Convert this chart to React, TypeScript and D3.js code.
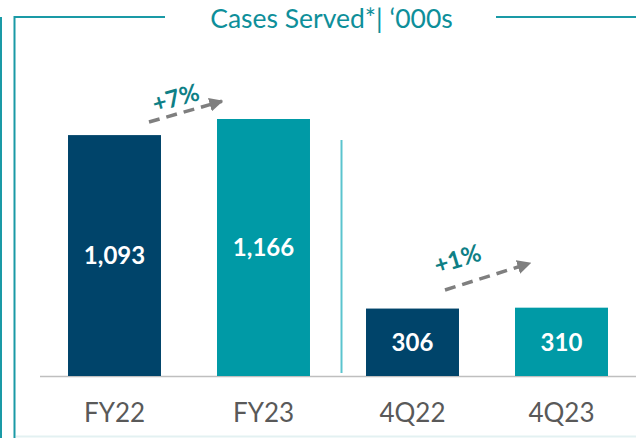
import React from "react";
import * as d3 from "d3";

const categories = ["FY22", "FY23", "4Q22", "4Q23"];
const values = [1093, 1166, 306, 310];
const valueLabels = ["1,093", "1,166", "306", "310"];
const barColors = ["#00446A", "#009AA6", "#00446A", "#009AA6"];
const growthLabels = ["+7%", "+1%"];
const title = "Cases Served*| \u2018000s";

const W = 636;
const H = 438;
const FONT = "Lato, 'Open Sans', sans-serif";

export default function App() {
  const x = d3.scaleBand<string>().domain(categories).range([40, 636]).paddingInner(0.376).paddingOuter(0.188);
  const y = d3.scaleLinear().domain([0, 1166]).range([376, 119]);
  const bw = x.bandwidth();

  const arrows = [
    { x1: 149, y1: 122, x2: 226, y2: 100, tx: 178, ty: 106, rot: -16, label: growthLabels[0] },
    { x1: 445, y1: 290, x2: 534, y2: 262, tx: 460, ty: 267, rot: -17, label: growthLabels[1] },
  ];

  return (
    <div style={{ position: "absolute", left: 0, top: 0 }}>
      <svg width={W} height={H} style={{ display: "block" }}>
        <defs>
          <marker id="ah" viewBox="0 0 10 10" refX="9" refY="5" markerWidth="4" markerHeight="4" orient="auto" markerUnits="strokeWidth">
            <path d="M0,0 L10,5 L0,10 z" fill="#7F7F7F" />
          </marker>
        </defs>
        <rect width={W} height={H} fill="#fff" />
        {/* frame */}
        <line x1={1} y1={17} x2={1} y2={438} stroke="#1A9AA6" strokeWidth={2} />
        <polyline points="14.5,438 14.5,17 165,17" fill="none" stroke="#1A9AA6" strokeWidth={2} />
        <line x1={496} y1={17} x2={636} y2={17} stroke="#1A9AA6" strokeWidth={2} />
        <line x1={16} y1={436.5} x2={636} y2={436.5} stroke="#E3F1F2" strokeWidth={2} />
        <text x={331.5} y={28} fill="#0E8F9A" fontFamily={FONT} fontSize={26.5} textAnchor="middle">{title}</text>
        {/* separator */}
        <line x1={341.5} y1={140} x2={341.5} y2={373} stroke="#5BC4CE" strokeWidth={2} />
        {/* baseline */}
        <line x1={40} y1={y(0) + 0.5} x2={636} y2={y(0) + 0.5} stroke="#BFBFBF" strokeWidth={1.5} />
        {categories.map((c, i) => (
          <g key={c}>
            <rect x={x(c)} y={y(values[i])} width={bw} height={y(0) - y(values[i])} fill={barColors[i]} />
            <text x={(x(c) as number) + bw / 2} y={(y(values[i]) + y(0)) / 2 + 8.7} fill="#fff" fontFamily={FONT} fontWeight="bold" fontSize={24} textAnchor="middle">{valueLabels[i]}</text>
            <text x={(x(c) as number) + bw / 2} y={421.5} fill="#595959" fontFamily={FONT} fontSize={26} textAnchor="middle">{c}</text>
          </g>
        ))}
        {arrows.map((a, i) => (
          <g key={i}>
            <line x1={a.x1} y1={a.y1} x2={a.x2 - 4} y2={a.y2 + 1.2} stroke="#7F7F7F" strokeWidth={3.5} strokeDasharray="11,7" markerEnd="url(#ah)" />
            <text x={a.tx} y={a.ty} transform={`rotate(${a.rot},${a.tx},${a.ty})`} fill="#0E7F86" fontFamily={FONT} fontWeight="bold" fontSize={24} textAnchor="middle">{a.label}</text>
          </g>
        ))}
      </svg>
    </div>
  );
}
